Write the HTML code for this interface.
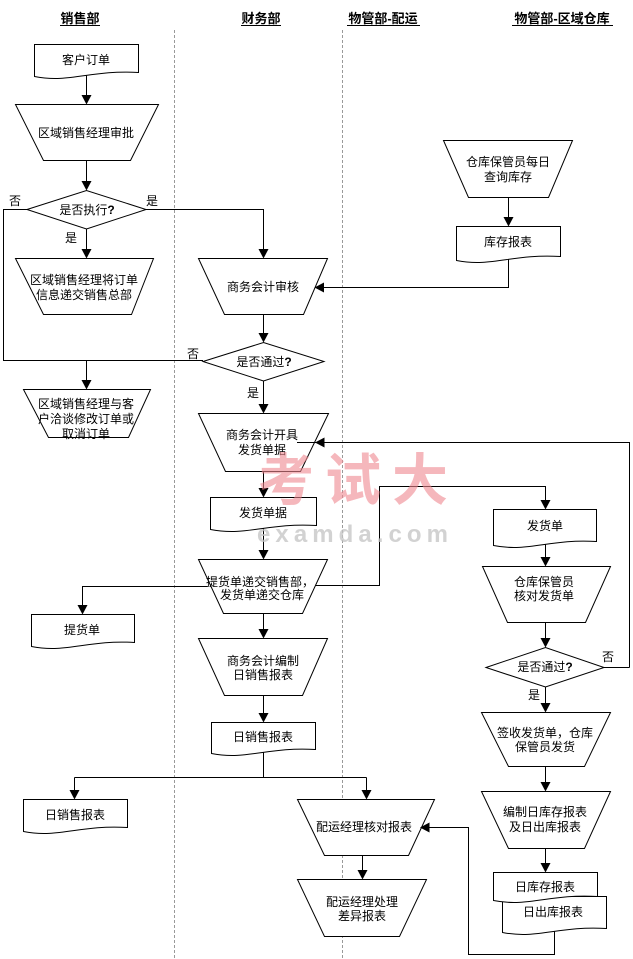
<!DOCTYPE html>
<html><head><meta charset="utf-8">
<style>
html,body{margin:0;padding:0;background:#fff;}
svg{display:block;}
text{font-family:"Liberation Sans","Noto Sans CJK SC","WenQuanYi Zen Hei",sans-serif;font-size:12px;fill:#000;}
.h{font-size:13px;font-weight:bold;}
.s{fill:#fff;stroke:#000;stroke-width:1;}
.l{fill:none;stroke:#000;stroke-width:1;}
.a{fill:#000;stroke:none;}
.q{font-weight:bold;}
</style></head>
<body>
<svg width="633" height="959" viewBox="0 0 633 959" xmlns="http://www.w3.org/2000/svg">
<!-- lane separators -->
<line x1="174.5" y1="30" x2="174.5" y2="959" stroke="#999" stroke-dasharray="3,2"/>
<line x1="342.5" y1="30" x2="342.5" y2="959" stroke="#999" stroke-dasharray="3,2"/>

<!-- headers -->
<text class="h" x="80" y="23" text-anchor="middle">销售部</text>
<line x1="60" y1="25.5" x2="100" y2="25.5" stroke="#000"/>
<text class="h" x="261" y="23" text-anchor="middle">财务部</text>
<line x1="241" y1="25.5" x2="281" y2="25.5" stroke="#000"/>
<text class="h" x="383" y="23" text-anchor="middle">物管部-配运</text>
<line x1="347" y1="25.5" x2="420" y2="25.5" stroke="#000"/>
<text class="h" x="562" y="23" text-anchor="middle">物管部-区域仓库</text>
<line x1="512" y1="25.5" x2="613" y2="25.5" stroke="#000"/>

<!-- connectors -->
<g class="l">
<path d="M86.5 75 V96"/>
<path d="M86.5 160 V182"/>
<path d="M146 209.5 H263.5 V250"/>
<path d="M27 209.5 H3.5 V360.5 H203"/>
<path d="M86.5 229 V250"/>
<path d="M86.5 360.5 V381"/>
<path d="M508.5 259 V287.5 H323"/>
<path d="M263.5 314 V334"/>
<path d="M263.5 381 V405"/>
<path d="M629.5 667.5 V442.5 H297"/>
<path d="M263.5 471 V489"/>
<path d="M263.5 528 V551"/>
<path d="M207 586.5 H82.5 V606"/>
<path d="M312 585.5 H379.5 V486.5 H545.5 V501"/>
<path d="M263.5 613 V630"/>
<path d="M263.5 695 V714"/>
<path d="M263.5 752 V777.5"/>
<path d="M74.5 777.5 H366.5"/>
<path d="M74.5 777.5 V791"/>
<path d="M366.5 777.5 V791"/>
<path d="M420 827.5 H468.5 V954.5 H554.5 V931"/>
<path d="M362.5 855 V871"/>
<path d="M508.5 197 V218"/>
<path d="M545.5 544 V558"/>
<path d="M545.5 622 V639"/>
<path d="M604 667.5 H629.5"/>
<path d="M545.5 687 V704"/>
<path d="M545.5 766 V783"/>
<path d="M545.5 848 V864"/>
</g>

<!-- docs -->
<path class="s" d="M34.5 44.5 H138.5 V72.5 C91 69.5 70 83.5 34.5 76.5 Z"/>
<path class="s" d="M456.5 226.5 H560.5 V256.5 C513 253.5 492 267.5 456.5 260.5 Z"/>
<path class="s" d="M210.5 497.5 H316.5 V525.5 C268 522.5 247 536.5 210.5 529.5 Z"/>
<path class="s" d="M493.5 509.5 H596.5 V541.5 C550 538.5 529 552.5 493.5 545.5 Z"/>
<path class="s" d="M31.5 614.5 H134.5 V642.5 C88 639.5 67 653.5 31.5 646.5 Z"/>
<path class="s" d="M211.5 722.5 H315.5 V749.5 C268 746.5 247 760.5 211.5 753.5 Z"/>
<path class="s" d="M23.5 799.5 H127.5 V827.5 C80 824.5 59 838.5 23.5 831.5 Z"/>
<path class="s" d="M502.5 896.5 H606.5 V928.5 C559 925.5 538 939.5 502.5 932.5 Z"/>
<path class="s" d="M493.5 872.5 H597.5 V896.5 C550 893.5 529 907.5 493.5 900.5 Z"/>

<!-- trapezoids -->
<polygon class="s" points="15.5,104.5 158.5,104.5 130.5,160.5 43.5,160.5"/>
<polygon class="s" points="15.5,258.5 153.5,258.5 131.5,314.5 43.5,314.5"/>
<polygon class="s" points="23.5,389.5 150.5,389.5 128.5,437.5 48.5,437.5"/>
<polygon class="s" points="198.5,258.5 327.5,258.5 303.5,314.5 224.5,314.5"/>
<polygon class="s" points="198.5,413.5 328.5,413.5 300.5,471.5 225.5,471.5"/>
<polygon class="s" points="198.5,559.5 327.5,559.5 302.5,613.5 223.5,613.5"/>
<polygon class="s" points="198.5,638.5 327.5,638.5 302.5,695.5 224.5,695.5"/>
<polygon class="s" points="297.5,799.5 434.5,799.5 408.5,855.5 324.5,855.5"/>
<polygon class="s" points="297.5,879.5 426.5,879.5 399.5,936.5 324.5,936.5"/>
<polygon class="s" points="443.5,140.5 572.5,140.5 548.5,197.5 468.5,197.5"/>
<polygon class="s" points="482.5,566.5 610.5,566.5 585.5,622.5 507.5,622.5"/>
<polygon class="s" points="481.5,712.5 610.5,712.5 584.5,766.5 508.5,766.5"/>
<polygon class="s" points="481.5,791.5 610.5,791.5 584.5,848.5 508.5,848.5"/>

<!-- diamonds -->
<polygon class="s" points="27,209.5 86.5,190.5 146,209.5 86.5,229"/>
<polygon class="s" points="203,361.5 263.5,342.5 324,361.5 263.5,381"/>
<polygon class="s" points="486,667.5 545.5,647.5 604,667.5 545.5,687"/>

<!-- line segment entering 商务会计开具 -->
<path class="l" d="M297 442.5 H316"/>

<!-- arrowheads -->
<g class="a">
<polygon points="81.5,95 91.5,95 86.5,104.5"/>
<polygon points="81.5,181 91.5,181 86.5,190.5"/>
<polygon points="258.5,249 268.5,249 263.5,258.5"/>
<polygon points="81.5,249 91.5,249 86.5,258.5"/>
<polygon points="81.5,380 91.5,380 86.5,389.5"/>
<polygon points="314.5,287.5 324,282.5 324,292.5"/>
<polygon points="258.5,333 268.5,333 263.5,342.5"/>
<polygon points="258.5,404 268.5,404 263.5,413.5"/>
<polygon points="315,442.5 324.5,437.5 324.5,447.5"/>
<polygon points="258.5,488 268.5,488 263.5,497.5"/>
<polygon points="258.5,550 268.5,550 263.5,559.5"/>
<polygon points="77.5,605 87.5,605 82.5,614.5"/>
<polygon points="540.5,500 550.5,500 545.5,509.5"/>
<polygon points="258.5,629 268.5,629 263.5,638.5"/>
<polygon points="258.5,713 268.5,713 263.5,722.5"/>
<polygon points="69.5,790 79.5,790 74.5,799.5"/>
<polygon points="361.5,790 371.5,790 366.5,799.5"/>
<polygon points="420,827.5 429.5,822.5 429.5,832.5"/>
<polygon points="357.5,870 367.5,870 362.5,879.5"/>
<polygon points="503.5,217 513.5,217 508.5,226.5"/>
<polygon points="540.5,557 550.5,557 545.5,566.5"/>
<polygon points="540.5,638 550.5,638 545.5,647.5"/>
<polygon points="540.5,703 550.5,703 545.5,712.5"/>
<polygon points="540.5,782 550.5,782 545.5,791.5"/>
<polygon points="540.5,863 550.5,863 545.5,872.5"/>
</g>

<!-- labels -->
<g text-anchor="middle">
<text x="86" y="64">客户订单</text>
<text x="86" y="137">区域销售经理审批</text>
<text x="87" y="214">是否执行<tspan class="q">?</tspan></text>
<text x="15" y="205">否</text>
<text x="152" y="205">是</text>
<text x="71" y="242">是</text>
<text x="84" y="284">区域销售经理将订单</text>
<text x="84" y="299">信息递交销售总部</text>
<text x="86" y="408">区域销售经理与客</text>
<text x="86" y="423">户洽谈修改订单或</text>
<text x="86" y="438">取消订单</text>

<text x="263" y="291">商务会计审核</text>
<text x="264" y="366">是否通过<tspan class="q">?</tspan></text>
<text x="193" y="358">否</text>
<text x="253" y="397">是</text>
<text x="262" y="439">商务会计开具</text>
<text x="262" y="454">发货单据</text>
<text x="263" y="517">发货单据</text>
<text x="260" y="586">提货单递交销售部，</text>
<text x="262" y="599">发货单递交仓库</text>
<text x="82" y="634">提货单</text>
<text x="263" y="665">商务会计编制</text>
<text x="263" y="679">日销售报表</text>
<text x="263" y="741">日销售报表</text>
<text x="75" y="819">日销售报表</text>

<text x="364" y="831">配运经理核对报表</text>
<text x="362" y="906">配运经理处理</text>
<text x="362" y="920">差异报表</text>

<text x="508" y="166">仓库保管员每日</text>
<text x="508" y="181">查询库存</text>
<text x="508" y="246">库存报表</text>
<text x="545" y="530">发货单</text>
<text x="544" y="586">仓库保管员</text>
<text x="544" y="600">核对发货单</text>
<text x="545" y="671">是否通过<tspan class="q">?</tspan></text>
<text x="608" y="661">否</text>
<text x="534" y="699">是</text>
<text x="545" y="737">签收发货单，仓库</text>
<text x="545" y="751">保管员发货</text>
<text x="545" y="816">编制日库存报表</text>
<text x="545" y="831">及日出库报表</text>
<text x="545" y="891">日库存报表</text>
<text x="553" y="916">日出库报表</text>
</g>

<!-- watermark -->
<text x="258" y="500" textLength="190" lengthAdjust="spacing" style="font-family:'Noto Sans CJK SC','WenQuanYi Zen Hei',sans-serif;font-size:56px;font-weight:bold;fill:#f08890;opacity:0.6;">考试大</text>
<text x="257" y="542" textLength="191" lengthAdjust="spacing" style="font-family:'Liberation Sans',sans-serif;font-size:24px;font-weight:bold;fill:#c4c4c4;opacity:0.75;">examda.com</text>
</svg>
</body></html>
